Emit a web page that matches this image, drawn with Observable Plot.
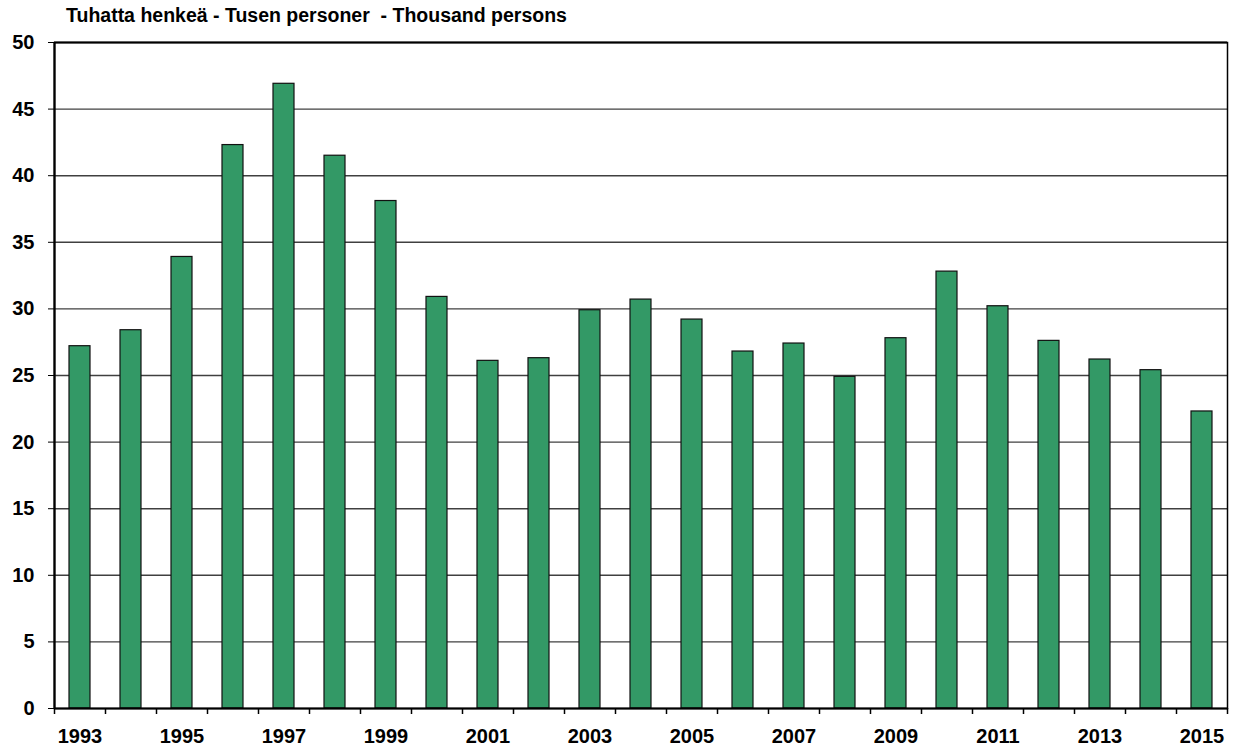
<!DOCTYPE html>
<html>
<head>
<meta charset="utf-8">
<script src="https://cdn.jsdelivr.net/npm/d3@7"></script>
<script src="https://cdn.jsdelivr.net/npm/@observablehq/plot@0.6"></script>
<style>
  html, body { margin: 0; padding: 0; background: #fff; }
  #title { height: 30px; padding-left: 66px; font: bold 19.5px "Liberation Sans", Arial, sans-serif; line-height: 30px; color: #000; white-space: pre; }
  svg { display: block; }
</style>
</head>
<body>
<div id="title">Tuhatta henkeä - Tusen personer  - Thousand persons</div>
<div id="chart"></div>
<script>
const years = ["1993","1994","1995","1996","1997","1998","1999","2000","2001","2002","2003","2004","2005","2006","2007","2008","2009","2010","2011","2012","2013","2014","2015"];
const values = [27.2, 28.4, 33.9, 42.3, 46.9, 41.5, 38.1, 30.9, 26.1, 26.3, 29.9, 30.7, 29.2, 26.8, 27.4, 24.9, 27.8, 32.8, 30.2, 27.6, 26.2, 25.4, 22.3];
const yTicks = [0, 5, 10, 15, 20, 25, 30, 35, 40, 45, 50];
const xLabels = years.filter((d, i) => i % 2 === 0);

const data = years.map((year, i) => ({year, value: values[i]}));
const step = (1238 - 54 - 11) / years.length;

const chart = Plot.plot({
  width: 1238,
  height: 719,
  marginTop: 12,
  marginBottom: 41,
  marginLeft: 54,
  marginRight: 11,
  style: {fontFamily: '"Liberation Sans", Arial, sans-serif', color: "#000", background: "#fff"},
  x: {type: "band", domain: years, paddingInner: 0.58, paddingOuter: 0.29, axis: null},
  y: {domain: [0, 50], axis: null},
  marks: [
    Plot.gridY(yTicks.filter(d => d > 0 && d < 50), {stroke: "#404040", strokeOpacity: 1, strokeWidth: 1.4}),
    Plot.barY(data, {x: "year", y: "value", fill: "#339966", stroke: "#111", strokeWidth: 1.2}),
    Plot.frame({stroke: "#000", strokeWidth: 1.5}),
    Plot.ruleY([50], {stroke: "#000", strokeWidth: 2}),
    Plot.ruleY([0], {stroke: "#000", strokeWidth: 2.2}),
    Plot.ruleX([years[0]], {x: d => d, dx: -step / 2, stroke: "#000", strokeWidth: 2.2}),
    Plot.axisY({ticks: yTicks, tickSize: 6, tickPadding: 14, fontSize: 20, fontWeight: "bold", stroke: "#000", label: null}),
    Plot.ruleX(years, {x: d => d, dx: -step / 2, y1: 0, y2: -0.45, stroke: "#000", strokeWidth: 1.5}),
    Plot.ruleX([years[years.length - 1]], {x: d => d, dx: step / 2, y1: 0, y2: -0.45, stroke: "#000", strokeWidth: 1.5}),
    Plot.axisX({ticks: xLabels, tickSize: 0, tickPadding: 20, fontSize: 20, fontWeight: "bold", label: null})
  ]
});
document.getElementById("chart").appendChild(chart);
</script>
</body>
</html>
